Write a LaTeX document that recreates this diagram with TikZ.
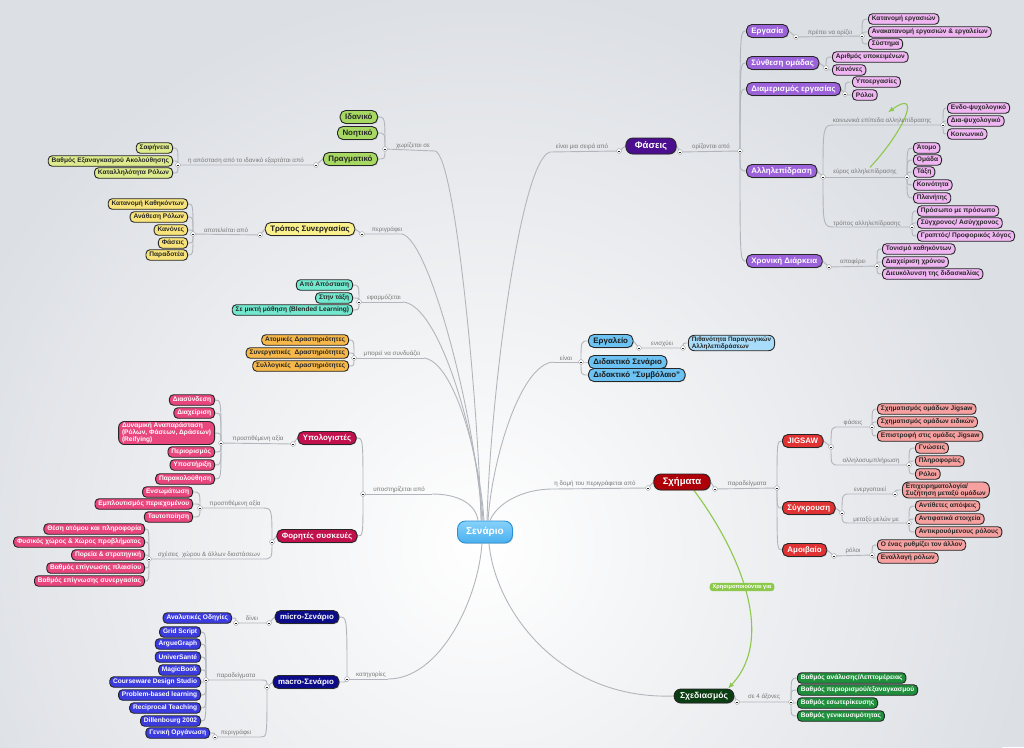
\documentclass[tikz,border=0pt]{standalone}
\usepackage{fontspec}
\setmainfont{Liberation Sans}
\usetikzlibrary{calc,shadows,arrows.meta}
\definecolor{bgc}{RGB}{220,223,228}
\definecolor{lngray}{RGB}{178,182,188}
\definecolor{lblgray}{RGB}{120,120,120}
\definecolor{scfill}{HTML}{4AB0F0}
\definecolor{sctop}{HTML}{86D2FA}
\definecolor{scbord}{HTML}{2B8FD6}
\definecolor{grmid}{HTML}{A6D862}
\definecolor{ygleaf}{HTML}{DDEB8C}
\definecolor{ymid}{HTML}{FAF08C}
\definecolor{yleaf}{HTML}{F8E37A}
\definecolor{aqua}{HTML}{72E8CE}
\definecolor{orng}{HTML}{F6B84A}
\definecolor{crmid}{HTML}{C2104C}
\definecolor{pkleaf}{HTML}{E8467C}
\definecolor{nvmid}{HTML}{0C0C88}
\definecolor{blleaf}{HTML}{3B3BE0}
\definecolor{pptop}{HTML}{4A0E8F}
\definecolor{ppmid}{HTML}{9B62D9}
\definecolor{lvleaf}{HTML}{F0B6F2}
\definecolor{lbmid}{HTML}{6CC2F2}
\definecolor{lbleaf}{HTML}{A8DCF8}
\definecolor{rdtop}{HTML}{AE0008}
\definecolor{rdmid}{HTML}{E03232}
\definecolor{slleaf}{HTML}{F7A0A0}
\definecolor{dgtop}{HTML}{0B3D12}
\definecolor{dgleaf}{HTML}{1F8F3C}
\definecolor{garrow}{HTML}{8CC84B}
\pgfdeclarelayer{bgl}
\pgfsetlayers{bgl,main}
\tikzset{
 ndleaf/.style={rounded corners=4pt, draw=black!85, line width=0.9pt, inner xsep=3.4pt, inner ysep=1.2pt, minimum height=10.5pt, font=\bfseries\fontsize{6.6}{7.2}\selectfont},
 ndmid/.style={ndleaf, rounded corners=5.5pt, minimum height=13pt, inner xsep=5pt, font=\bfseries\fontsize{7.9}{8.6}\selectfont, drop shadow={opacity=0.3,shadow xshift=0.8pt,shadow yshift=-0.8pt}},
 ndtop/.style={ndmid, minimum height=16pt, rounded corners=7pt, font=\bfseries\fontsize{9.5}{10}\selectfont, inner xsep=9pt},
 lbl/.style={font=\fontsize{6.2}{6.6}\selectfont, text=lblgray, inner sep=0.5pt},
 ln/.style={draw=lngray, line width=0.9pt},
 ccst/.style={draw=gray!75, fill=white, line width=0.4pt},
 gmid/.style={ndmid, fill=grmid, text=black!85},
 gleaf/.style={ndleaf, fill=ygleaf, text=black!85},
 ymidst/.style={ndmid, fill=ymid, text=black!90},
 yleafst/.style={ndleaf, fill=yleaf, text=black!85},
 aqleaf/.style={ndleaf, fill=aqua, text=black!85},
 orleaf/.style={ndleaf, fill=orng, text=black!85},
 crm/.style={ndmid, fill=crmid, text=white},
 pkl/.style={ndleaf, fill=pkleaf, text=white},
 nvm/.style={ndmid, fill=nvmid, text=white},
 bll/.style={ndleaf, fill=blleaf, text=white},
 ppt/.style={ndtop, fill=pptop, text=white},
 ppm/.style={ndmid, fill=ppmid, text=white},
 lvl/.style={ndleaf, fill=lvleaf, text=black!85},
 lbm/.style={ndmid, fill=lbmid, text=black!90},
 lbl2/.style={ndleaf, fill=lbleaf, text=black!85},
 rdt/.style={ndtop, fill=rdtop, text=white},
 rdm/.style={ndmid, fill=rdmid, text=white},
 sll/.style={ndleaf, fill=slleaf, text=black!85},
 dgt/.style={ndtop, fill=dgtop, text=white, minimum height=14pt, inner xsep=6pt, font=\bfseries\fontsize{8.6}{9}\selectfont},
 dgl/.style={ndleaf, fill=dgleaf, text=white},
 garr/.style={draw=garrow, line width=1.1pt, -{Latex[length=6pt,width=5pt]}}
}
\newcommand\br[2]{\draw[ln] (#1) .. controls (#2 |- #1) .. (#2);}
\newcommand\bnd[3]{\draw[ln] (#1) .. controls (#1 |- #2) .. ($(#1 |- #2)+(#3,0)$) -- (#2);}
\begin{document}
\begin{tikzpicture}[x=1pt,y=-1pt]
\useasboundingbox (0,0) rectangle (1024,747);
% ---------- central ----------
\node[rounded corners=8pt, draw=scbord, line width=0.9pt, top color=sctop, bottom color=scfill, text=white, font=\bfseries\fontsize{10}{11}\selectfont, minimum width=55pt, minimum height=22pt, drop shadow={opacity=0.3,shadow xshift=0.8pt,shadow yshift=-0.8pt}] (sc) at (485,532) {Σενάριο};

% ---------- green ----------
\node[gmid,anchor=east] (gid) at (378,117) {Ιδανικό};
\node[gmid,anchor=east] (gno) at (378,133) {Νοητικό};
\node[gmid,anchor=east] (gpr) at (378,159) {Πραγματικό};
\node[lbl] (lG) at (413,146) {χωρίζεται σε};
\node[gleaf,anchor=east] (p1) at (173,148) {Σαφήνεια};
\node[gleaf,anchor=east] (p2) at (173,161) {Βαθμός Εξαναγκασμού Ακολούθησης};
\node[gleaf,anchor=east] (p3) at (173,173) {Καταλληλότητα Ρόλων};
\node[lbl] (lPr) at (246,161) {η απόσταση από το ιδανικό εξαρτάται από};
\coordinate (jG1) at (385,149); \coordinate (jG2) at (435,151);
\coordinate (jPr1) at (316,165); \coordinate (jPr2) at (178,165);

% ---------- yellow ----------
\node[ymidst] (ts) at (310,229) {Τρόπος Συνεργασίας};
\node[lbl] (lY) at (387,230) {περιγράφει};
\node[lbl] (lY2) at (226,230) {αποτελείται από};
\node[yleafst,anchor=east] (y1) at (188,204) {Κατανομή Καθηκόντων};
\node[yleafst,anchor=east] (y2) at (188,217) {Ανάθεση Ρόλων};
\node[yleafst,anchor=east] (y3) at (188,230) {Κανόνες};
\node[yleafst,anchor=east] (y4) at (188,243) {Φάσεις};
\node[yleafst,anchor=east] (y5) at (188,255) {Παραδοτέα};
\coordinate (jY1) at (362,234); \coordinate (jY2) at (402,234);
\coordinate (jY3) at (260,235); \coordinate (jY4) at (193,234);

% ---------- aqua ----------
\node[aqleaf,anchor=east] (a1) at (353,285) {Από Απόσταση};
\node[aqleaf,anchor=east] (a2) at (353,298) {Στην τάξη};
\node[aqleaf,anchor=east] (a3) at (353,310) {Σε μικτή μάθηση (Blended Learning)};
\node[lbl] (lA) at (384,298) {εφαρμόζεται};
\coordinate (jA1) at (359,302); \coordinate (jA2) at (403,302);

% ---------- orange ----------
\node[orleaf,anchor=east] (o1) at (349,340) {Ατομικές Δραστηριότητες};
\node[orleaf,anchor=east] (o2) at (349,353) {Συνεργατικές\ \ Δραστηριότητες};
\node[orleaf,anchor=east] (o3) at (349,366) {Συλλογικές\ \ Δραστηριότητες};
\node[lbl] (lO) at (392,354) {μπορεί να συνδυάζει};
\coordinate (jO1) at (354,358); \coordinate (jO2) at (424,358);

% ---------- crimson ----------
\node[crm] (u) at (327,438) {Υπολογιστές};
\node[crm] (f) at (317,536) {Φορητές συσκευές};
\node[lbl] (lC) at (399,490) {υποστηρίζεται από};
\node[lbl] (lU) at (258,439) {προστιθέμενη αξία};
\node[pkl,anchor=east] (k1) at (215,400) {Διασύνδεση};
\node[pkl,anchor=east] (k2) at (215,413) {Διαχείριση};
\node[pkl,anchor=east,align=left,rounded corners=6pt] (k3) at (215,433) {Δυναμική Αναπαράσταση\\(Ρόλων, Φάσεων, Δράσεων)\\(Reifying)};
\node[pkl,anchor=east] (k4) at (215,452) {Περιορισμός};
\node[pkl,anchor=east] (k5) at (215,465) {Υποστήριξη};
\node[pkl,anchor=east] (k6) at (215,479) {Παρακολούθηση};
\node[lbl] (lF1) at (235,504) {προστιθέμενη αξία};
\node[lbl] (lF2) at (209,555) {σχέσεις\ \ χώρου \& άλλων διαστάσεων};
\node[pkl,anchor=east] (m1) at (193,492) {Ενσωμάτωση};
\node[pkl,anchor=east] (m2) at (193,504) {Εμπλουτισμός περιεχομένου};
\node[pkl,anchor=east] (m3) at (193,517) {Ταυτοποίηση};
\node[pkl,anchor=east] (s1) at (145,529) {Θέση ατόμου και πληροφορία};
\node[pkl,anchor=east] (s2) at (145,542) {Φυσικός χώρος \& Χώρος προβλήματος};
\node[pkl,anchor=east] (s3) at (145,555) {Πορεία \& στρατηγική};
\node[pkl,anchor=east] (s4) at (145,568) {Βαθμός επίγνωσης πλαισίου};
\node[pkl,anchor=east] (s5) at (145,581) {Βαθμός επίγνωσης συνεργασίας};
\coordinate (jC1) at (363,494); \coordinate (jC2) at (432,494);
\coordinate (jU1) at (293,444); \coordinate (jU2) at (221,443);
\coordinate (jF) at (272,542); \coordinate (jF2) at (200,508); \coordinate (jF3) at (149,559);

% ---------- navy ----------
\node[nvm] (mi) at (307,617) {micro-Σενάριο};
\node[nvm] (ma) at (306,682) {macro-Σενάριο};
\node[lbl] (lN) at (371,675) {κατηγορίες};
\node[lbl] (lMi) at (252,618) {δίνει};
\node[lbl] (lMa1) at (236,676) {παραδείγματα};
\node[lbl] (lMa2) at (236,733) {περιγράφει};
\node[bll,anchor=east] (n0) at (232,618) {Αναλυτικές Οδηγίες};
\node[bll,anchor=east] (b1) at (201,632) {Grid Script};
\node[bll,anchor=east] (b2) at (201,644) {ArgueGraph};
\node[bll,anchor=east] (b3) at (201,657) {UniverSanté};
\node[bll,anchor=east] (b4) at (201,670) {MagicBook};
\node[bll,anchor=east] (b5) at (201,682) {Courseware Design Studio};
\node[bll,anchor=east] (b6) at (201,695) {Problem-based learning};
\node[bll,anchor=east] (b7) at (201,708) {Reciprocal Teaching};
\node[bll,anchor=east] (b8) at (201,721) {Dillenbourg 2002};
\node[bll,anchor=east] (b9) at (210,733) {Γενική Οργάνωση};
\coordinate (jN1) at (347,679); \coordinate (jN2) at (388,679);
\coordinate (jmi1) at (269,623); \coordinate (jmi2) at (236,623);
\coordinate (jMa) at (267,687); \coordinate (jMa2) at (206,680); \coordinate (jMa3) at (215,737);

% ---------- purple ----------
\node[ppt] (ph) at (651,146) {Φάσεις};
\node[lbl] (lPh1) at (582,147) {είναι μια σειρά από};
\node[lbl] (lPh2) at (711,147) {ορίζονται από};
\node[ppm,anchor=west] (e1) at (746,31) {Εργασία};
\node[ppm,anchor=west] (e2) at (746,63) {Σύνθεση ομάδας};
\node[ppm,anchor=west] (e3) at (746,89) {Διαμερισμός εργασίας};
\node[ppm,anchor=west] (e4) at (746,171) {Αλληλεπίδραση};
\node[ppm,anchor=west] (e5) at (746,261) {Χρονική Διάρκεια};
\node[lbl] (lE) at (830,33) {πρέπει να ορίζει};
\node[lvl,anchor=west] (v1) at (868,19) {Κατανομή εργασιών};
\node[lvl,anchor=west] (v2) at (868,32) {Ανακατανομή εργασιών \& εργαλείων};
\node[lvl,anchor=west] (v3) at (868,44) {Σύστημα};
\node[lvl,anchor=west] (v4) at (832,57) {Αριθμός υποκειμένων};
\node[lvl,anchor=west] (v5) at (832,70) {Κανόνες};
\node[lvl,anchor=west] (v6) at (852,82) {Υποεργασίες};
\node[lvl,anchor=west] (v7) at (852,95) {Ρόλοι};
\node[lbl] (lKoin) at (882,121) {κοινωνικά επίπεδα αλληλεπίδρασης};
\node[lbl] (lEur) at (865,172) {εύρος αλληλεπίδρασης};
\node[lbl] (lTr) at (867,224) {τρόπος αλληλεπίδρασης};
\node[lvl,anchor=west] (w1) at (947,108) {Ενδο-ψυχολογικό};
\node[lvl,anchor=west] (w2) at (947,121) {Δια-ψυχολογικό};
\node[lvl,anchor=west] (w3) at (947,134) {Κοινωνικό};
\node[lvl,anchor=west] (w4) at (913,148) {Άτομο};
\node[lvl,anchor=west] (w5) at (913,160) {Ομάδα};
\node[lvl,anchor=west] (w6) at (913,172) {Τάξη};
\node[lvl,anchor=west] (w7) at (913,185) {Κοινότητα};
\node[lvl,anchor=west] (w8) at (913,198) {Πλανήτης};
\node[lvl,anchor=west] (w9) at (917,211) {Πρόσωπο με πρόσωπο};
\node[lvl,anchor=west] (w10) at (917,223) {Σύγχρονος/ Ασύγχρονος};
\node[lvl,anchor=west] (w11) at (917,236) {Γραπτός/ Προφορικός λόγος};
\node[lbl] (lX) at (853,262) {αποφέρει};
\node[lvl,anchor=west] (x1) at (882,249) {Τονισμό καθηκόντων};
\node[lvl,anchor=west] (x2) at (882,262) {Διαχείριση χρόνου};
\node[lvl,anchor=west] (x3) at (882,274) {Διευκόλυνση της διδασκαλίας};
\coordinate (jPh1) at (619,151); \coordinate (jPh2) at (550,152);
\coordinate (jPh3) at (680,152); \coordinate (jPh4) at (740,151);
\coordinate (jE1) at (796,37); \coordinate (jE2) at (862,36);
\coordinate (jS) at (826,68); \coordinate (jD) at (845,94);
\coordinate (jI) at (823,177); \coordinate (jI1) at (943,125);
\coordinate (jI2) at (907,177); \coordinate (jI3) at (912,227);
\coordinate (jX1) at (829,267); \coordinate (jX2) at (877,266);

% ---------- light blue ----------
\node[lbl] (lL) at (566,358) {είναι};
\node[lbm,anchor=west] (l1) at (588,341) {Εργαλείο};
\node[lbm,anchor=west] (l2) at (588,362) {Διδακτικό Σενάριο};
\node[lbm,anchor=west] (l3) at (588,375) {Διδακτικό "Συμβόλαιο"};
\node[lbl] (lL2) at (662,344) {ενισχύει};
\node[lbl2,anchor=west,align=left,rounded corners=6pt,font=\bfseries\fontsize{6.4}{7}\selectfont] (l4) at (688,343) {Πιθανότητα Παραγωγικών\\Αλληλεπιδράσεων};
\coordinate (jL0) at (553,362); \coordinate (jL1) at (581,362);
\coordinate (jL2) at (639,348); \coordinate (jL3) at (683,348);

% ---------- red ----------
\node[lbl] (lR) at (595,484) {η δομή του περιγράφεται από};
\node[rdt] (sx) at (682,482) {Σχήματα};
\node[lbl] (lR2) at (747,484) {παραδείγματα};
\node[rdm,anchor=west] (r1) at (782,441) {JIGSAW};
\node[rdm,anchor=west] (r2) at (782,508) {Σύγκρουση};
\node[rdm,anchor=west] (r3) at (782,550) {Αμοιβαίο};
\node[lbl] (lJ1) at (853,423) {φάσεις};
\node[lbl] (lJ2) at (871,461) {αλληλοσυμπλήρωση};
\node[sll,anchor=west] (q1) at (877,409) {Σχηματισμός ομάδων Jigsaw};
\node[sll,anchor=west] (q2) at (877,422) {Σχηματισμός ομάδων ειδικών};
\node[sll,anchor=west] (q3) at (877,436) {Επιστροφή στις ομάδες Jigsaw};
\node[sll,anchor=west] (q4) at (915,448) {Γνώσεις};
\node[sll,anchor=west] (q5) at (915,461) {Πληροφορίες};
\node[sll,anchor=west] (q6) at (915,474) {Ρόλοι};
\node[lbl] (lK1) at (870,490) {ενεργοποιεί};
\node[lbl] (lK2) at (876,520) {μεταξύ μελών με};
\node[sll,anchor=west,align=left,rounded corners=6pt] (q7) at (902,490) {Επιχειρηματολογία/\\Συζήτηση μεταξύ ομάδων};
\node[sll,anchor=west] (q8) at (915,506) {Αντίθετες απόψεις};
\node[sll,anchor=west] (q9) at (915,519) {Αντιφατικά στοιχεία};
\node[sll,anchor=west] (q10) at (915,532) {Αντικρουόμενους ρόλους};
\node[lbl] (lAm) at (853,551) {ρόλοι};
\node[sll,anchor=west] (q11) at (877,545) {Ο ένας ρυθμίζει τον άλλον};
\node[sll,anchor=west] (q12) at (877,558) {Εναλλαγή ρόλων};
\coordinate (jR0) at (553,489); \coordinate (jR1) at (648,488);
\coordinate (jR2) at (715,489); \coordinate (jR3) at (777,488);
\coordinate (jJ) at (831,447); \coordinate (jJ1) at (872,427); \coordinate (jJ2) at (909,465);
\coordinate (jK) at (842,513); \coordinate (jK1) at (895,494); \coordinate (jK2) at (909,523);
\coordinate (jam1) at (834,556); \coordinate (jam2) at (872,555);

% ---------- dark green ----------
\node[dgt] (sd) at (704,696) {Σχεδιασμός};
\node[lbl] (lSd) at (764,697) {σε 4 άξονες};
\node[dgl,anchor=west] (d1) at (797,678) {Βαθμός ανάλυσης/Λεπτομέρειας};
\node[dgl,anchor=west] (d2) at (797,690) {Βαθμός περιορισμού/εξαναγκασμού};
\node[dgl,anchor=west] (d3) at (797,703) {Βαθμός εσωτερίκευσης};
\node[dgl,anchor=west] (d4) at (797,716) {Βαθμός γενικευσιμότητας};
\coordinate (jSd1) at (737,702); \coordinate (jSd2) at (791,702);

\node[rounded corners=3pt, fill=garrow, text=white, font=\bfseries\fontsize{5.6}{6}\selectfont, inner xsep=3pt, inner ysep=1.5pt] (chr) at (742,587) {Χρησιμοποιούνται για};

% ================= lines on background layer =================
\begin{pgfonlayer}{bgl}
\fill[bgc] (0,0) rectangle (1024,747);
\begin{scope}
\clip (0,0) rectangle (1024,747);
\shade[inner color=white, outer color=bgc] (480,545) circle (560pt);
\end{scope}
% center curves
\draw[ln] (jG2) .. controls (455,155) and (478,400) .. ($(sc.north)+(-4,0)$);
\draw[ln] (jY2) .. controls (430,240) and (476,420) .. ($(sc.north)+(-3,0)$);
\draw[ln] (jA2) .. controls (440,305) and (478,440) .. ($(sc.north)+(-2,0)$);
\draw[ln] (jO2) .. controls (455,362) and (480,460) .. ($(sc.north)+(-1,0)$);
\draw[ln] (jC2) .. controls (460,494) and (476,505) .. ($(sc.north)+(-7,0)$);
\draw[ln] (jPh2) .. controls (520,160) and (490,400) .. ($(sc.north)+(2,0)$);
\draw[ln] (jL0) .. controls (520,365) and (492,460) .. ($(sc.north)+(3,0)$);
\draw[ln] (jR0) .. controls (520,489) and (496,505) .. ($(sc.north)+(5,0)$);
\draw[ln] (jN2) .. controls (440,679) and (478,600) .. ($(sc.south)+(-3,0)$);
\draw[ln] (sd.west) .. controls (560,700) and (495,610) .. ($(sc.south)+(4,0)$);
% green
\foreach \c in {gid,gno,gpr} {\br{\c.east}{jG1}}
\draw[ln] (jG1) -- (jG2);
\draw[ln] (gpr.west) -- (jPr1) -- (jPr2);
\foreach \c in {p1,p2,p3} {\br{\c.east}{jPr2}}
% yellow
\draw[ln] (ts.east) -- (jY1) -- (jY2);
\draw[ln] (ts.west) -- (jY3) -- (jY4);
\foreach \c in {y1,y2,y3,y4,y5} {\br{\c.east}{jY4}}
% aqua, orange
\foreach \c in {a1,a2,a3} {\br{\c.east}{jA1}}
\draw[ln] (jA1) -- (jA2);
\foreach \c in {o1,o2,o3} {\br{\c.east}{jO1}}
\draw[ln] (jO1) -- (jO2);
% crimson
\br{u.east}{jC1} \br{f.east}{jC1}
\draw[ln] (jC1) -- (jC2);
\draw[ln] (u.west) -- (jU1) -- (jU2);
\foreach \c in {k1,k2,k3,k4,k5,k6} {\br{\c.east}{jU2}}
\draw[ln] (f.west) -- (jF);
\bnd{jF}{jF2}{-10}
\bnd{jF}{jF3}{-10}
\foreach \c in {m1,m2,m3} {\br{\c.east}{jF2}}
\foreach \c in {s1,s2,s3,s4,s5} {\br{\c.east}{jF3}}
% navy
\br{mi.east}{jN1} \br{ma.east}{jN1}
\draw[ln] (jN1) -- (jN2);
\draw[ln] (mi.west) -- (jmi1) -- (jmi2);
\br{n0.east}{jmi2}
\draw[ln] (ma.west) -- (jMa);
\bnd{jMa}{jMa2}{-6}
\bnd{jMa}{jMa3}{-6}
\foreach \c in {b1,b2,b3,b4,b5,b6,b7,b8} {\br{\c.east}{jMa2}}
\br{b9.east}{jMa3}
% purple
\draw[ln] (jPh2) -- (jPh1) -- (ph.west);
\draw[ln] (ph.east) -- (jPh3) -- (jPh4);
\foreach \c in {e1,e2,e3,e4,e5} {\br{\c.west}{jPh4}}
\draw[ln] (e1.east) -- (jE1) -- (jE2);
\foreach \c in {v1,v2,v3} {\br{\c.west}{jE2}}
\draw[ln] (e2.east) -- (jS);
\foreach \c in {v4,v5} {\br{\c.west}{jS}}
\draw[ln] (e3.east) -- (jD);
\foreach \c in {v6,v7} {\br{\c.west}{jD}}
\draw[ln] (e4.east) -- (jI);
\bnd{jI}{jI1}{12}
\draw[ln] (jI) -- (jI2);
\bnd{jI}{jI3}{12}
\foreach \c in {w1,w2,w3} {\br{\c.west}{jI1}}
\foreach \c in {w4,w5,w6,w7,w8} {\br{\c.west}{jI2}}
\foreach \c in {w9,w10,w11} {\br{\c.west}{jI3}}
\draw[ln] (e5.east) -- (jX1) -- (jX2);
\foreach \c in {x1,x2,x3} {\br{\c.west}{jX2}}
% light blue
\draw[ln] (jL0) -- (jL1);
\foreach \c in {l1,l2,l3} {\br{\c.west}{jL1}}
\draw[ln] (l1.east) -- (jL2) -- (jL3);
\br{l4.west}{jL3}
% red
\draw[ln] (jR0) -- (jR1) -- (sx.west);
\draw[ln] (sx.east) -- (jR2) -- (jR3);
\foreach \c in {r1,r2,r3} {\br{\c.west}{jR3}}
\draw[ln] (r1.east) -- (jJ);
\bnd{jJ}{jJ1}{8}
\bnd{jJ}{jJ2}{8}
\foreach \c in {q1,q2,q3} {\br{\c.west}{jJ1}}
\foreach \c in {q4,q5,q6} {\br{\c.west}{jJ2}}
\draw[ln] (r2.east) -- (jK);
\bnd{jK}{jK1}{8}
\bnd{jK}{jK2}{8}
\br{q7.west}{jK1}
\foreach \c in {q8,q9,q10} {\br{\c.west}{jK2}}
\draw[ln] (r3.east) -- (jam1) -- (jam2);
\foreach \c in {q11,q12} {\br{\c.west}{jam2}}
% dark green
\draw[ln] (sd.east) -- (jSd1) -- (jSd2);
\foreach \c in {d1,d2,d3,d4} {\br{\c.west}{jSd2}}
% green arrows
\draw[garr] ($(sx.south)+(12,0)$) .. controls (735,545) and (778,635) .. ($(sd.north)+(24,0)$);
\draw[garr] ($(lEur.north)+(5,-1)$) .. controls (905,130) and (922,88) .. ($(lKoin.north)+(6,-5)$);
\end{pgfonlayer}
% collapse circles
\foreach \p in {(385,149),(316,165),(178,165),(362,234),(260,235),(193,234),(359,302),(354,358),(363,494),(293,444),(221,443),(272,542),(200,508),(149,559),(347,679),(269,623),(236,623),(267,687),(206,680),(215,737),(619,151),(680,152),(740,151),(796,37),(862,36),(826,68),(845,94),(823,177),(943,125),(907,177),(912,227),(829,267),(877,266),(581,362),(639,348),(683,348),(648,488),(715,489),(777,488),(831,447),(872,427),(909,465),(842,513),(895,494),(909,523),(834,556),(872,555),(737,702),(791,702)}
 {\draw[ccst] \p circle (2.4pt); \draw[gray!30!black, line width=0.5pt] \p ++(-1.2,0) -- ++(2.4,0);}
\end{tikzpicture}
\end{document}
